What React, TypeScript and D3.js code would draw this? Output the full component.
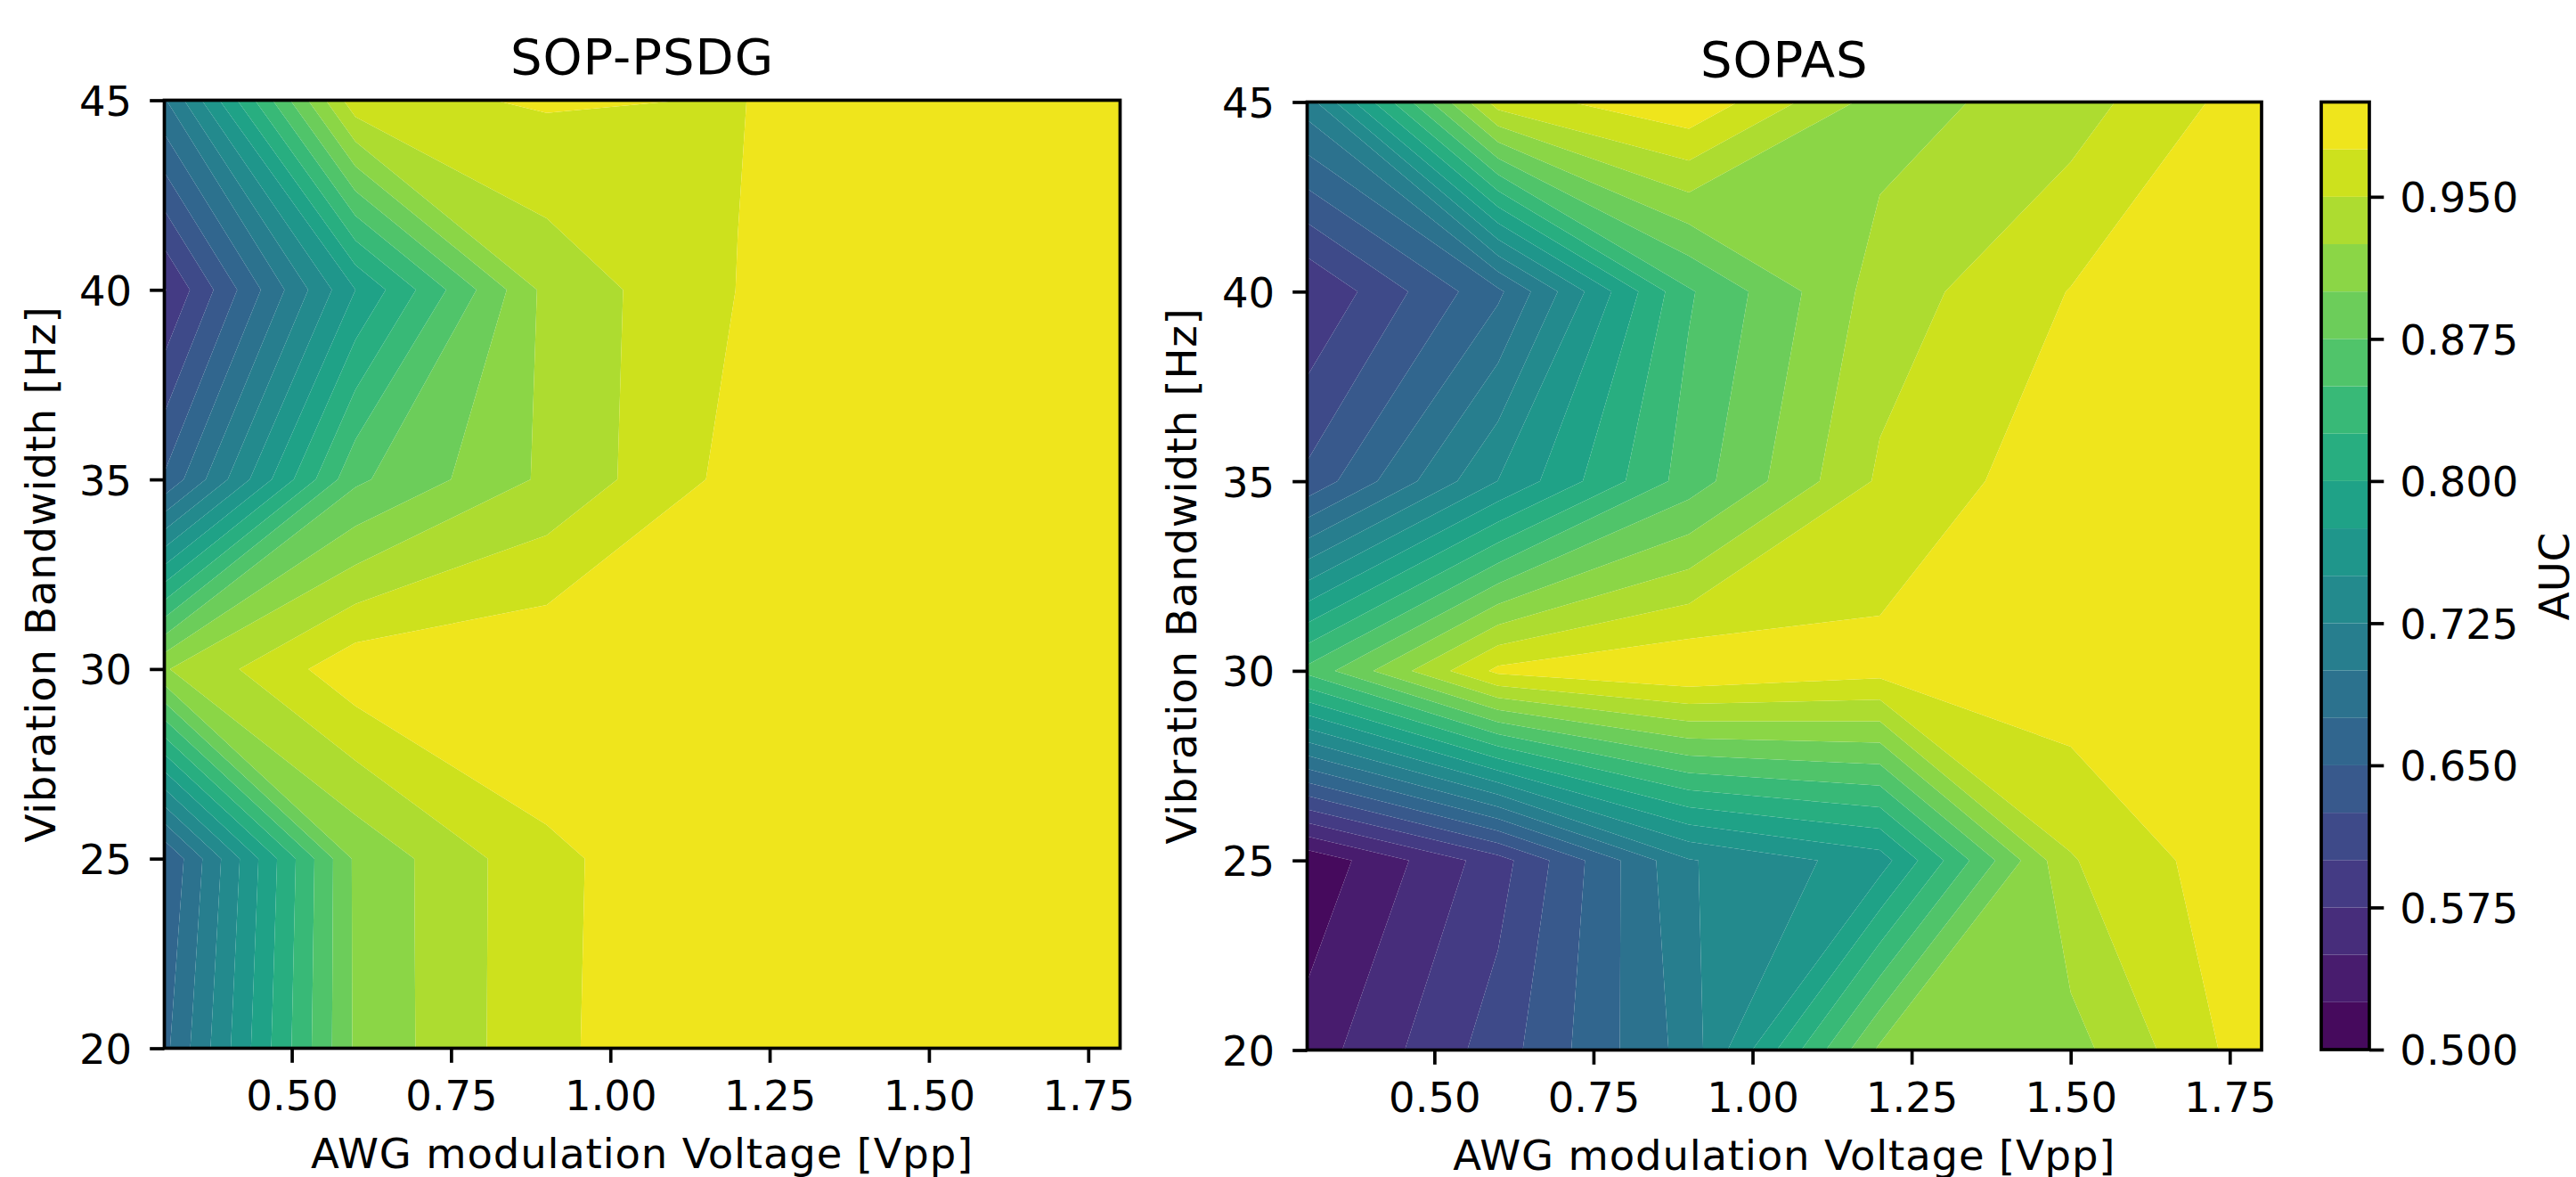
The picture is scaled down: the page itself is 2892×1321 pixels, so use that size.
import React, { useRef, useEffect } from 'react';
import * as d3 from 'd3';

const voltages = [0.3, 0.6, 0.9, 1.2, 1.5, 1.8];
const bandwidths = [20, 25, 30, 35, 40, 45];

// rows go from 20 Hz up to 45 Hz
const sopPsdgAuc = [
    [0.668, 0.904, 0.971, 0.9935, 1, 1],
    [0.649, 0.905, 0.97, 0.995, 1, 1],
    [0.923, 0.992, 0.998, 1, 1, 1],
    [0.653, 0.87, 0.93, 0.984, 1, 1],
    [0.573, 0.775, 0.933, 0.9755, 1, 1],
    [0.697, 0.967, 0.978, 0.9738, 1, 1],
];
const sopasAuc = [
    [0.536, 0.6123, 0.7105, 0.905, 0.915, 0.9925],
    [0.5055, 0.589, 0.723, 0.763, 0.948, 0.997],
    [0.857, 0.981, 0.998, 0.9836, 0.993, 1],
    [0.631, 0.7505, 0.862, 0.954, 0.992, 1],
    [0.575, 0.6695, 0.847, 0.9365, 0.976, 1],
    [0.713, 0.962, 0.996, 0.914, 0.938, 0.99],
];

const levels = [0.5, 0.525, 0.55, 0.575, 0.6, 0.625, 0.65, 0.675, 0.7, 0.725, 0.75,
    0.775, 0.8, 0.825, 0.85, 0.875, 0.9, 0.925, 0.95, 0.975, 1];
const xTicks = [0.5, 0.75, 1.0, 1.25, 1.5, 1.75];
const yTicks = [20, 25, 30, 35, 40, 45];
const colorbarTicks = [0.5, 0.575, 0.65, 0.725, 0.8, 0.875, 0.95];

const FONT = '"DejaVu Sans"';
const TICK_FONT = 46.5;
const TITLE_FONT = 56;
const LINE = 3.7;
const TICK_LEN = 16.3;

const colorOf = d3.scaleLinear().domain([0.5, 1]).range([0, 1]);
const bandColor = (i: number) => d3.interpolateViridis(colorOf((levels[i] + levels[i + 1]) / 2));

function styleAxis(g: any) {
    g.select('.domain').remove();
    g.selectAll('line').attr('stroke', '#000').attr('stroke-width', LINE);
    g.selectAll('text').attr('fill', '#000').attr('font-family', FONT).attr('font-size', TICK_FONT);
}

function drawPanel(svg: any, p: any) {
    const { left, right, top, bottom, title, values, id, titleY, xLabelY, yLabelX, xTickPad, yTickPad } = p;
    const x = d3.scaleLinear().domain([voltages[0], voltages[5]]).range([left, right]);
    const y = d3.scaleLinear().domain([bandwidths[0], bandwidths[5]]).range([bottom, top]);

    // d3 puts grid samples at i + 0.5, map those back on to the data
    const colToV = d3.scaleLinear().domain([0.5, voltages.length - 0.5]).range([voltages[0], voltages[5]]);
    const rowToB = d3.scaleLinear().domain([0.5, bandwidths.length - 0.5]).range([bandwidths[0], bandwidths[5]]);
    const path = d3.geoPath(d3.geoTransform({
        point(px: number, py: number) {
            (this as any).stream.point(x(colToV(px)), y(rowToB(py)));
        },
    }));

    const grid = d3.contours().size([voltages.length, bandwidths.length]);
    const flat = values.flat();

    svg.append('clipPath').attr('id', id)
        .append('rect')
        .attr('x', left).attr('y', top)
        .attr('width', right - left).attr('height', bottom - top);

    const bands = svg.append('g').attr('clip-path', `url(#${id})`);
    d3.range(levels.length - 1).forEach((i) => {
        let d = path(grid.contour(flat, levels[i])) || '';
        // the top band keeps everything up to and including 1.0
        if (i < levels.length - 2) d += path(grid.contour(flat, levels[i + 1])) || '';
        bands.append('path')
            .attr('d', d)
            .attr('fill', bandColor(i))
            .attr('fill-rule', 'evenodd');
    });

    svg.append('g')
        .attr('transform', `translate(0, ${bottom})`)
        .call(d3.axisBottom(x).tickValues(xTicks).tickFormat(d3.format('.2f')).tickSize(TICK_LEN).tickPadding(xTickPad))
        .call(styleAxis);

    const yAxis = svg.append('g')
        .attr('transform', `translate(${left}, 0)`)
        .call(d3.axisLeft(y).tickValues(yTicks).tickFormat(d3.format('d')).tickSize(TICK_LEN).tickPadding(yTickPad))
        .call(styleAxis);
    yAxis.selectAll('text').attr('dy', '0.364em');

    svg.append('rect')
        .attr('x', left).attr('y', top)
        .attr('width', right - left).attr('height', bottom - top)
        .attr('fill', 'none').attr('stroke', '#000').attr('stroke-width', LINE);

    svg.append('text')
        .attr('x', (left + right) / 2).attr('y', titleY)
        .attr('text-anchor', 'middle')
        .attr('font-family', FONT).attr('font-size', TITLE_FONT)
        .attr('letter-spacing', 1)
        .text(title);

    svg.append('text')
        .attr('x', (left + right) / 2).attr('y', xLabelY)
        .attr('text-anchor', 'middle')
        .attr('font-family', FONT).attr('font-size', TICK_FONT)
        .attr('letter-spacing', 0.85)
        .text('AWG modulation Voltage [Vpp]');

    svg.append('text')
        .attr('transform', `translate(${yLabelX}, ${(top + bottom) / 2}) rotate(-90)`)
        .attr('text-anchor', 'middle')
        .attr('font-family', FONT).attr('font-size', TICK_FONT)
        .attr('letter-spacing', 0.8)
        .text('Vibration Bandwidth [Hz]');
}

function drawColorbar(svg: any) {
    const left = 2606;
    const right = 2660;
    const top = 114.5;
    const bottom = 1178;
    const y = d3.scaleLinear().domain([0.5, 1]).range([bottom, top]);

    d3.range(levels.length - 1).forEach((i) => {
        svg.append('rect')
            .attr('x', left).attr('width', right - left)
            .attr('y', y(levels[i + 1]))
            .attr('height', y(levels[i]) - y(levels[i + 1]))
            .attr('fill', bandColor(i));
    });

    const axis = svg.append('g')
        .attr('transform', `translate(${right}, 0)`)
        .call(d3.axisRight(y).tickValues(colorbarTicks).tickFormat(d3.format('.3f')).tickSize(TICK_LEN).tickPadding(18))
        .call(styleAxis);
    axis.selectAll('text').attr('dy', '0.364em');

    svg.append('rect')
        .attr('x', left).attr('y', top)
        .attr('width', right - left).attr('height', bottom - top)
        .attr('fill', 'none').attr('stroke', '#000').attr('stroke-width', LINE);

    svg.append('text')
        .attr('transform', `translate(2884, 647) rotate(-90)`)
        .attr('text-anchor', 'middle')
        .attr('font-family', FONT).attr('font-size', TICK_FONT)
        .text('AUC');
}

export default function App() {
    const ref = useRef<SVGSVGElement>(null);

    useEffect(() => {
        const svg = d3.select(ref.current);
        svg.selectAll('*').remove();

        drawPanel(svg, {
            id: 'clip-psdg', title: 'SOP-PSDG', values: sopPsdgAuc,
            left: 184.5, right: 1257.5, top: 112.5, bottom: 1176.5,
            titleY: 83, xLabelY: 1311, yLabelX: 62, xTickPad: 20, yTickPad: 20,
        });
        drawPanel(svg, {
            id: 'clip-sopas', title: 'SOPAS', values: sopasAuc,
            left: 1467.5, right: 2539, top: 114.5, bottom: 1178.5,
            titleY: 86, xLabelY: 1313, yLabelX: 1343, xTickPad: 20, yTickPad: 20,
        });
        drawColorbar(svg);
    }, []);

    return (
        <svg
            ref={ref}
            width={2892}
            height={1321}
            style={{ position: 'absolute', left: 0, top: 0, background: '#fff' }}
        />
    );
}
